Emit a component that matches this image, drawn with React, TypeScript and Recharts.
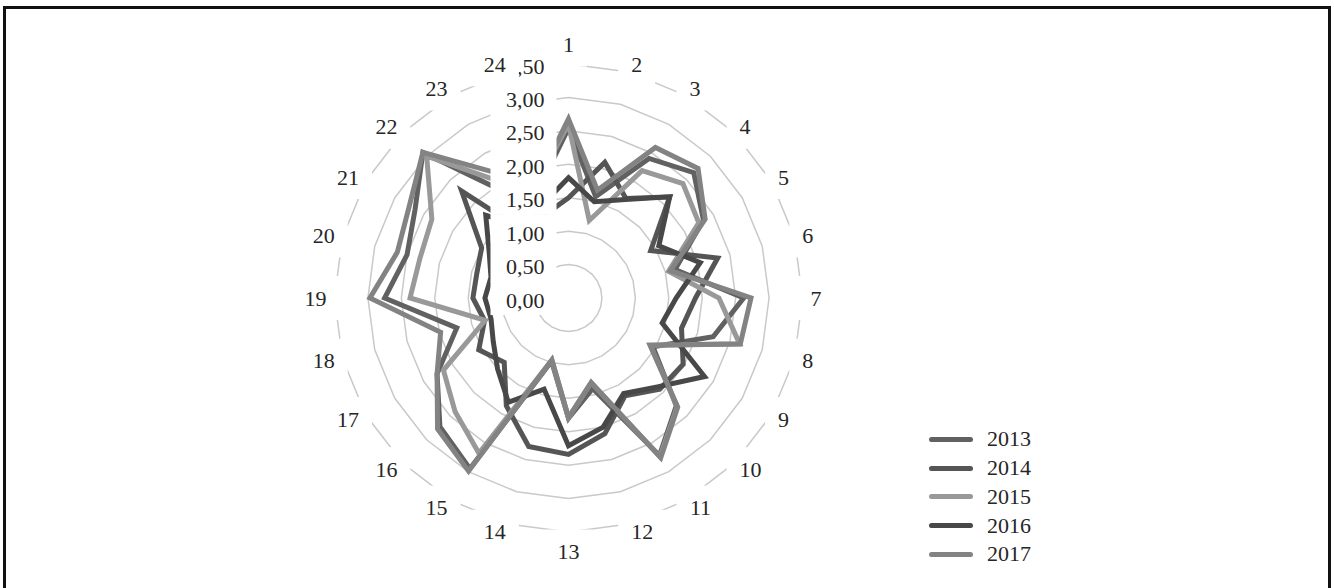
import React from 'react';
import {
  RadarChart,
  Radar,
  PolarGrid,
  PolarAngleAxis,
  PolarRadiusAxis,
  Legend,
} from 'recharts';

const hours = [
  '1', '2', '3', '4', '5', '6', '7', '8', '9', '10', '11', '12',
  '13', '14', '15', '16', '17', '18', '19', '20', '21', '22', '23', '24',
];

const radiusTicks = [0, 0.5, 1, 1.5, 2, 2.5, 3, 3.5];

const values2013 = [2.54, 1.57, 2.41, 2.65, 2.33, 1.65, 2.62, 2.24, 1.46, 2.28, 2.72, 1.4, 1.8, 0.98, 2.95, 2.72, 2.27, 1.73, 2.75, 2.5, 2.65, 3.08, 1.8, 1.7];
const values2014 = [1.5, 2.1, 1.72, 2.14, 1.42, 2.31, 1.9, 1.75, 1.98, 1.93, 1.69, 2.1, 2.34, 2.3, 1.86, 1.36, 1.55, 1.3, 1.43, 1.42, 1.5, 2.26, 1.05, 1.3];
const values2015 = [2.6, 1.2, 2.2, 2.42, 2.25, 1.55, 2.25, 2.65, 1.41, 2.3, 2.74, 1.31, 1.79, 0.96, 2.68, 2.4, 2.16, 1.29, 2.37, 2.3, 2.36, 3.0, 2.0, 1.8];
const values2016 = [1.8, 1.49, 1.7, 2.14, 1.56, 2.04, 1.61, 1.45, 2.35, 1.88, 1.65, 2.0, 2.21, 1.41, 1.8, 1.5, 1.3, 1.2, 1.25, 1.2, 1.37, 1.75, 1.2, 1.46];
const values2017 = [2.68, 1.67, 2.6, 2.74, 2.36, 1.58, 2.73, 2.66, 1.41, 2.31, 2.76, 1.31, 1.79, 0.96, 2.99, 2.77, 2.27, 1.98, 2.97, 2.65, 2.75, 3.08, 2.16, 1.8];

const years = ['2013', '2014', '2015', '2016', '2017'];
const yearValues = [values2013, values2014, values2015, values2016, values2017];
const yearColors = ['#616161', '#555555', '#999999', '#484848', '#838383'];

const data = hours.map((h, i) => {
  const row: Record<string, string | number> = { hour: h };
  years.forEach((y, j) => {
    row[y] = yearValues[j][i];
  });
  return row;
});

const FONT = '"Liberation Serif", "Times New Roman", serif';
const TEXT = '#262626';
const CX = 568.5;
const CY = 298;
// the radius axis ends up on a [0, 4] domain, so 3.5 lands at 234px
const OUTER = (234 * 4) / 3.5;
const LABEL_R = 242;

// category labels sit just outside the outer ring, with a white box that hides it
const AngleTick = (props: any) => {
  const { x, y, payload } = props;
  const dx = x - CX;
  const dy = y - CY;
  const d = Math.hypot(dx, dy) || 1;
  const sx = dx / d;
  const sy = dy / d;
  const label = String(payload.value);
  const tw = 11 * label.length;
  let tx = CX + sx * LABEL_R;
  let ty = CY + sy * LABEL_R;
  if (Math.abs(sx) < 0.05) {
    ty += Math.sign(sy) * 11.5;
  } else {
    tx += Math.sign(sx) * (tw / 2);
  }
  const w = tw + 26;
  const h = 44;
  return (
    <g>
      <rect x={tx - w / 2} y={ty - h / 2} width={w} height={h} fill="#fff" />
      <text
        x={tx}
        y={ty}
        textAnchor="middle"
        dominantBaseline="central"
        fontFamily={FONT}
        fontSize={22}
        fill={TEXT}
      >
        {label}
      </text>
    </g>
  );
};

const RadiusTick = (props: any) => {
  const { x, y, payload } = props;
  const label = Number(payload.value).toFixed(2).replace('.', ',');
  return (
    <g>
      <rect x={x - 78} y={y - 17} width={66} height={34} fill="#fff" />
      <text
        x={x - 24}
        y={y + 2}
        textAnchor="end"
        dominantBaseline="central"
        fontFamily={FONT}
        fontSize={22}
        fill={TEXT}
      >
        {label}
      </text>
    </g>
  );
};

const LegendContent = (props: any) => {
  const items = props.payload || [];
  return (
    <div style={{ fontFamily: FONT, fontSize: 22, color: TEXT }}>
      {items.map((item: any) => (
        <div
          key={item.value}
          style={{ display: 'flex', alignItems: 'center', height: 28.75 }}
        >
          <span
            style={{
              display: 'inline-block',
              width: 44,
              height: 5,
              borderRadius: 3,
              background: item.color,
              marginRight: 14,
            }}
          />
          <span>{item.value}</span>
        </div>
      ))}
    </div>
  );
};

export default function App() {
  return (
    <div
      style={{
        position: 'absolute',
        left: 0,
        top: 0,
        width: 1334,
        height: 588,
        background: '#fff',
      }}
    >
      <div
        style={{
          position: 'absolute',
          left: 3,
          top: 6,
          width: 1322,
          height: 600,
          border: '3px solid #111',
        }}
      />
      <div style={{ position: 'absolute', left: 0, top: 0 }}>
        <RadarChart
          width={1334}
          height={588}
          data={data}
          cx={CX}
          cy={CY}
          outerRadius={OUTER}
          margin={{ top: 0, right: 0, bottom: 0, left: 0 }}
        >
          <PolarGrid gridType="polygon" radialLines={false} stroke="#c9c9c9" strokeWidth={1.5} />
          {years.map((y, j) => (
            <Radar
              key={y}
              name={y}
              dataKey={y}
              stroke={yearColors[j]}
              strokeWidth={5}
              strokeLinejoin="miter"
              fill="none"
              fillOpacity={0}
              dot={false}
              isAnimationActive={false}
            />
          ))}
          <PolarRadiusAxis
            angle={90}
            type="number"
            domain={[0, 4]}
            ticks={radiusTicks}
            allowDataOverflow
            axisLine={false}
            tick={<RadiusTick />}
          />
          <PolarAngleAxis
            dataKey="hour"
            tickLine={false}
            axisLine={false}
            tick={<AngleTick />}
          />
          <Legend
            layout="vertical"
            align="right"
            verticalAlign="middle"
            content={<LegendContent />}
            wrapperStyle={{ left: 929, top: 425, width: 'auto', right: 'auto', bottom: 'auto' }}
          />
        </RadarChart>
      </div>
    </div>
  );
}
